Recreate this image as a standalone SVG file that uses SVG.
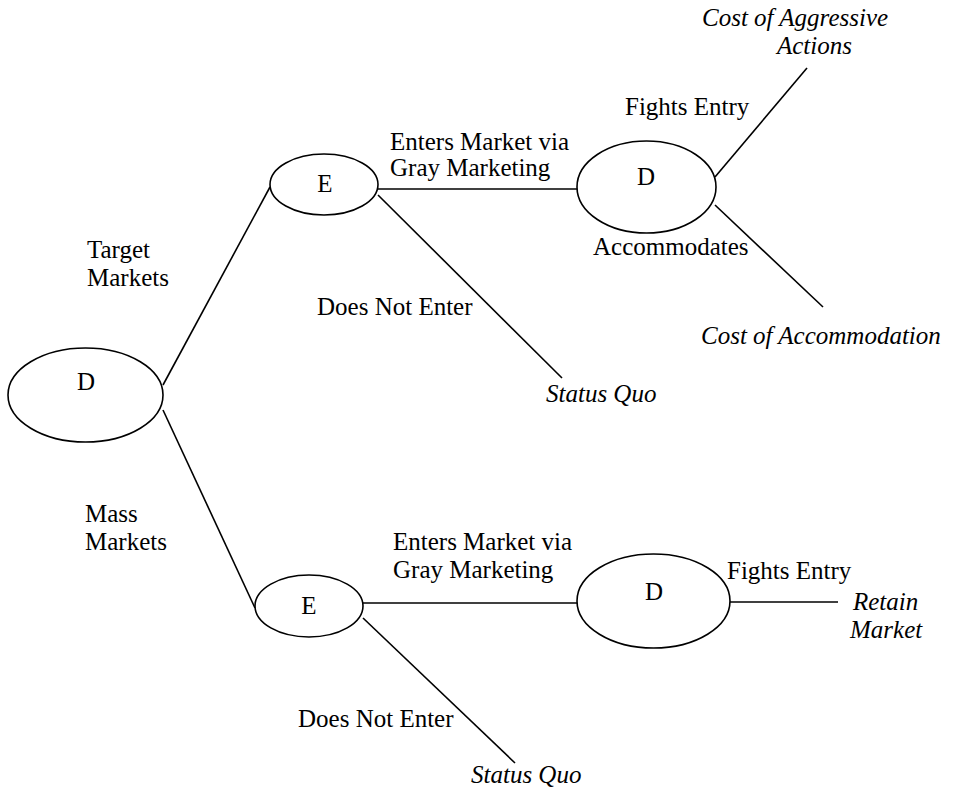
<svg xmlns="http://www.w3.org/2000/svg" width="954" height="791" viewBox="0 0 954 791">
<style>
.n{fill:#fff;stroke:#000;stroke-width:1.6}
.c line{stroke:#000;stroke-width:1.6}
text{font-family:'Liberation Serif','Times New Roman','DejaVu Serif',serif;font-size:25px;fill:#000}
.m{text-anchor:middle}
.i{font-style:italic}
</style>
<rect width="954" height="791" fill="#fff"/>
<g id="connectors" class="c">
<line x1="163" y1="385" x2="270" y2="187"/>
<line x1="163" y1="410" x2="255" y2="608"/>
<line x1="378" y1="189" x2="577" y2="189"/>
<line x1="378" y1="195" x2="562" y2="378"/>
<line x1="715" y1="177" x2="807" y2="68"/>
<line x1="715" y1="205" x2="823" y2="307"/>
<line x1="363" y1="603" x2="577" y2="603"/>
<line x1="363" y1="618" x2="515" y2="763"/>
<line x1="730" y1="602" x2="838" y2="602"/>
</g>
<g id="root">
<ellipse class="n" cx="85.5" cy="395" rx="77.5" ry="47"/>
<text class="m" x="86" y="390" font-family="Liberation Serif, serif">D</text>
</g>
<g id="e1">
<ellipse class="n" cx="324" cy="184.5" rx="54" ry="30.5"/>
<text class="m" x="325" y="192" font-family="Liberation Serif, serif">E</text>
</g>
<g id="d2">
<ellipse class="n" cx="646.5" cy="187" rx="69.5" ry="46"/>
<text class="m" x="646" y="185" font-family="Liberation Serif, serif">D</text>
</g>
<g id="e2">
<ellipse class="n" cx="309" cy="606" rx="54" ry="31"/>
<text class="m" x="309" y="614" font-family="Liberation Serif, serif">E</text>
</g>
<g id="d3">
<ellipse class="n" cx="653.5" cy="601" rx="76.5" ry="47"/>
<text class="m" x="654" y="600" font-family="Liberation Serif, serif">D</text>
</g>
<g id="labels" font-family="Liberation Serif, serif">
<text x="87" y="258">Target</text>
<text x="87" y="286">Markets</text>
<text x="85" y="522">Mass</text>
<text x="85" y="550">Markets</text>
<text x="390" y="150">Enters Market via</text>
<text x="390" y="176">Gray Marketing</text>
<text x="625" y="115">Fights Entry</text>
<text x="593" y="255">Accommodates</text>
<text x="317" y="315">Does Not Enter</text>
<text class="i" x="546" y="402">Status Quo</text>
<text class="i" x="702" y="26">Cost of Aggressive</text>
<text class="i" x="777" y="54">Actions</text>
<text class="i" x="701" y="344">Cost of Accommodation</text>
<text x="393" y="550">Enters Market via</text>
<text x="393" y="578">Gray Marketing</text>
<text x="727" y="579">Fights Entry</text>
<text class="i" x="853" y="610">Retain</text>
<text class="i" x="850" y="638">Market</text>
<text x="298" y="727">Does Not Enter</text>
<text class="i" x="471" y="783">Status Quo</text>
</g>
</svg>
